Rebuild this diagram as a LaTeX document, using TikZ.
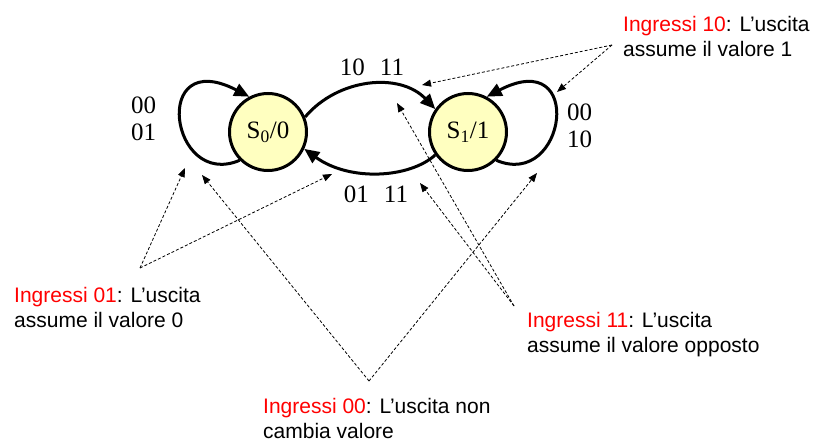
\documentclass[tikz,border=0pt]{standalone}
\usepackage{fontspec}
\setmainfont{Liberation Serif}
\newfontfamily\annfont{Liberation Sans}
\usetikzlibrary{arrows.meta}
\definecolor{statefill}{RGB}{255,255,192}
\definecolor{annred}{RGB}{255,0,0}
\tikzset{
  state/.style={circle, draw, line width=3pt, fill=statefill, minimum size=77pt,
    inner sep=0pt, font=\fontsize{25}{27}\selectfont},
  trans/.style={line width=3pt, -{Triangle[length=15pt,width=13pt]}},
  edgelbl/.style={anchor=base, inner sep=0pt, font=\fontsize{25}{27}\selectfont},
  looplbl/.style={anchor=base west, inner sep=0pt, font=\fontsize{25}{27.5}\selectfont},
  note/.style={anchor=base west, inner sep=0pt, font=\annfont\fontsize{21}{25}\selectfont},
  pointer/.style={line width=0.8pt, dash pattern=on 3pt off 2pt,
    -{Triangle[length=9pt,width=7pt]}},
}
\begin{document}
\begin{tikzpicture}[x=1pt,y=-1pt]
\useasboundingbox (0,0) rectangle (814,444);
% states
\node[state] (s0) at (268,132) {S\textsubscript{0}/0};
\node[state] (s1) at (468,132) {S\textsubscript{1}/1};
% transitions
\draw[trans] (s0.22) .. controls (338,78) and (400,72) .. (s1.145);
\draw[trans] (s1.215) .. controls (410,178) and (350,182) .. (s0.-25);
\draw[trans] (s0.225) .. controls (170,190) and (150,45) .. (s0.118);
\draw[trans] (s1.-45) .. controls (566,190) and (586,45) .. (s1.62);
% transition labels
\node[edgelbl] (l01) at (372,76) {10\hspace{15pt}11};
\node[edgelbl] (l10) at (376,202) {01\hspace{15pt}11};
\node[looplbl] (l00) at (131,113) {\begin{tabular}[t]{@{}l@{}}00\\01\end{tabular}};
\node[looplbl] (l11) at (567,120) {\begin{tabular}[t]{@{}l@{}}00\\10\end{tabular}};
% notes
\node[note] (n10) at (623,32) {\begin{tabular}[t]{@{}l@{}}\textcolor{annred}{Ingressi 10}: L’uscita\\assume il valore 1\end{tabular}};
\node[note] (n01) at (14,302) {\begin{tabular}[t]{@{}l@{}}\textcolor{annred}{Ingressi 01}: L’uscita\\assume il valore 0\end{tabular}};
\node[note] (n11) at (527,327) {\begin{tabular}[t]{@{}l@{}}\textcolor{annred}{Ingressi 11}: L’uscita\\assume il valore opposto\end{tabular}};
\node[note] (n00) at (263,413) {\begin{tabular}[t]{@{}l@{}}\textcolor{annred}{Ingressi 00}: L’uscita non\\cambia valore\end{tabular}};
% pointer apexes and targets
\coordinate (a10) at (612,45);
\coordinate (t10a) at (422,85);
\coordinate (t10b) at (557,92);
\coordinate (a01) at (140,268);
\coordinate (t01a) at (185,168);
\coordinate (t01b) at (332,174);
\coordinate (a00) at (369,381);
\coordinate (t00a) at (202,175);
\coordinate (t00b) at (537,173);
\coordinate (a11) at (514,306);
\coordinate (t11a) at (397,103);
\coordinate (t11b) at (420,183);
% pointers
\draw[pointer] (a10) -- (t10a);
\draw[pointer] (a10) -- (t10b);
\draw[pointer] (a01) -- (t01a);
\draw[pointer] (a01) -- (t01b);
\draw[pointer] (a00) -- (t00a);
\draw[pointer] (a00) -- (t00b);
\draw[pointer] (a11) -- (t11a);
\draw[pointer] (a11) -- (t11b);
\end{tikzpicture}
\end{document}
